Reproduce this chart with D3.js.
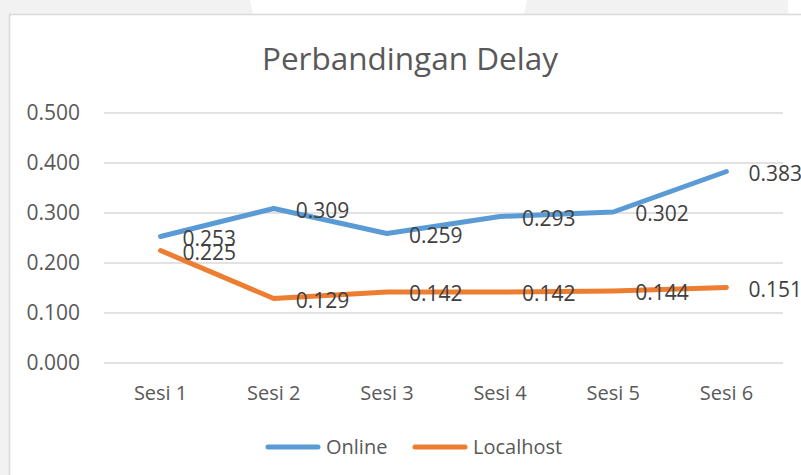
<!DOCTYPE html>
<html>
<head>
<meta charset="utf-8">
<script src="https://cdn.jsdelivr.net/npm/d3@7"></script>
<style>
  body { margin: 0; background: #ffffff; }
  text { font-family: "Open Sans", sans-serif; }
</style>
</head>
<body>
<div id="chart"></div>
<script>
const width = 801;
const height = 475;
const marginTop = 113;
const marginRight = 18;
const marginBottom = 112;
const marginLeft = 104;

const sessions = ["Sesi 1", "Sesi 2", "Sesi 3", "Sesi 4", "Sesi 5", "Sesi 6"];
const online = [0.253, 0.309, 0.259, 0.293, 0.302, 0.383];
const localhost = [0.225, 0.129, 0.142, 0.142, 0.144, 0.151];
const yTicks = [0, 0.1, 0.2, 0.3, 0.4, 0.5];

const series = [
    { name: "Online", values: online, color: "#5b9bd5" },
    { name: "Localhost", values: localhost, color: "#ed7d31" }
];

const xScale = d3.scaleBand()
    .domain(sessions)
    .range([marginLeft, width - marginRight]);

const yScale = d3.scaleLinear()
    .domain([0, 0.5])
    .range([height - marginBottom, marginTop]);

const xMid = d => xScale(d) + xScale.bandwidth() / 2;

const svg = d3.create("svg")
    .attr("width", width)
    .attr("height", height);

// faint background shapes behind the chart box
svg.append("path")
    .attr("d", "M0,0 L250,0 L253,14 L9,14 L9,475 L0,475 Z")
    .attr("fill", "#f2f2f2");
svg.append("path")
    .attr("d", "M527,0 L788,0 L788,14 L524,14 Z")
    .attr("fill", "#f2f2f2");

// chart box
svg.append("rect")
    .attr("x", 9.5)
    .attr("y", 14.5)
    .attr("width", 820)
    .attr("height", 480)
    .attr("fill", "#ffffff")
    .attr("stroke", "#d9d9d9")
    .attr("stroke-width", 1.5);

svg.append("text")
    .attr("x", 410)
    .attr("y", 70)
    .attr("text-anchor", "middle")
    .attr("font-size", 31.5)
    .attr("fill", "#595959")
    .text("Perbandingan Delay");

// gridlines
svg.append("g")
    .selectAll("line")
    .data(yTicks)
    .join("line")
    .attr("x1", marginLeft)
    .attr("x2", width - marginRight)
    .attr("y1", d => yScale(d))
    .attr("y2", d => yScale(d))
    .attr("stroke", "#d9d9d9")
    .attr("stroke-width", 1.3);

const yAxis = svg.append("g")
    .attr("transform", `translate(${marginLeft},0)`)
    .call(d3.axisLeft(yScale).tickValues(yTicks).tickFormat(d3.format(".3f")).tickSize(0).tickPadding(24));
yAxis.select(".domain").remove();
yAxis.selectAll("text")
    .attr("font-size", 21)
    .attr("font-family", "Open Sans, sans-serif")
    .attr("fill", "#595959");

const xAxis = svg.append("g")
    .attr("transform", `translate(0,${height - marginBottom})`)
    .call(d3.axisBottom(xScale).tickSize(0).tickPadding(23));
xAxis.select(".domain").remove();
xAxis.selectAll("text")
    .attr("font-size", 20)
    .attr("font-family", "Open Sans, sans-serif")
    .attr("fill", "#595959");

const line = d3.line()
    .x((d, i) => xMid(sessions[i]))
    .y(d => yScale(d));

series.forEach(s => {
    svg.append("path")
        .datum(s.values)
        .attr("fill", "none")
        .attr("stroke", s.color)
        .attr("stroke-width", 5)
        .attr("stroke-linecap", "round")
        .attr("stroke-linejoin", "round")
        .attr("d", line);
});

series.forEach(s => {
    svg.append("g")
        .selectAll("text")
        .data(s.values)
        .join("text")
        .attr("x", (d, i) => xMid(sessions[i]) + 22)
        .attr("y", d => yScale(d) + 9)
        .attr("font-size", 21)
        .attr("fill", "#404040")
        .text(d => d3.format(".3f")(d));
});

// legend
const legendItems = [
    { name: "Online", color: "#5b9bd5", x: 268 },
    { name: "Localhost", color: "#ed7d31", x: 415 }
];
const legend = svg.append("g").attr("transform", "translate(0,447)");
legendItems.forEach(item => {
    legend.append("line")
        .attr("x1", item.x)
        .attr("x2", item.x + 50)
        .attr("stroke", item.color)
        .attr("stroke-width", 5)
        .attr("stroke-linecap", "round");
    legend.append("text")
        .attr("x", item.x + 58)
        .attr("y", 7)
        .attr("font-size", 20)
        .attr("fill", "#595959")
        .text(item.name);
});

document.getElementById("chart").append(svg.node());
</script>
</body>
</html>
